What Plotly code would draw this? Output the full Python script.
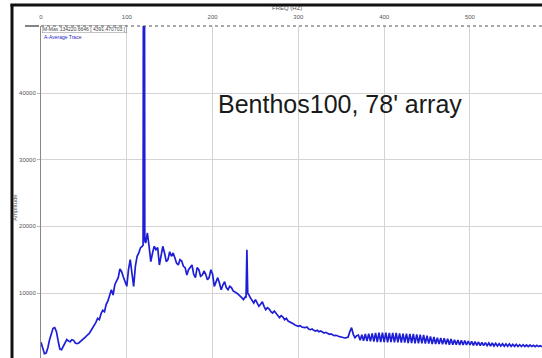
import plotly.graph_objects as go

# Averaged spectrum.
# Regular 2 Hz bins, with 1 Hz bins around the two narrow tonal peaks.
freq_0_118 = list(range(0, 119, 2))
amp_0_118 = [
    2600, 1800, 900, 1000, 1800, 3000, 4000, 4700, 4800, 4200,
    2800, 1600, 1500, 2000, 2700, 3000, 2800, 2700, 3000, 2900,
    2500, 2400, 2500, 2700, 2900, 3100, 3400, 3700, 3900, 4300,
    4700, 5000, 5600, 6200, 6000, 6900, 7400, 7200, 8300, 8800,
    9600, 10500, 9700, 11200, 11800, 12300, 13600, 13200, 12400, 11600,
    11000, 13500, 15000, 13000, 11000, 14000, 15500, 16000, 16800, 17000,
]
freq_peak_120 = [119, 120, 121]
amp_peak_120 = [17200, 134220, 17800]
freq_122_238 = list(range(122, 239, 2))
amp_122_238 = [
    17500, 19000, 17000, 14700, 16000, 17000, 16500, 16800, 14200,
    15500, 17000, 16000, 14700, 15000, 16200, 15500, 16000, 15300, 14500,
    14200, 15000, 14800, 14000, 13800, 12700, 13500, 13800, 14200, 12800,
    12300, 13800, 13500, 12500, 12700, 13300, 12800, 12000, 12300, 13500,
    12800, 11000, 11800, 12300, 11500, 10500, 11200, 11700, 10800, 10500,
    11000, 10800, 10300, 10200, 10000, 9800, 9600, 9300, 9000, 9400,
]
freq_peak_240 = [239, 240, 241]
amp_peak_240 = [9300, 16500, 9900]
freq_242_368 = list(range(242, 369, 2))
amp_242_368 = [
    9800, 9300, 8800, 8500, 9000, 8600, 8000, 8300, 8700,
    8000, 7500, 7800, 7600, 7200, 7000, 7300, 7000, 6600, 6300,
    6600, 6400, 6000, 6200, 5800, 5700, 5600, 5400, 5200, 5100,
    5000, 5100, 4900, 4850, 4800, 4900, 4600, 4500, 4600, 4400,
    4300, 4400, 4200, 4300, 4100, 4000, 4100, 3900, 3800, 3850,
    3700, 3600, 3650, 3500, 3450, 3400, 3300, 3250, 3300, 3400,
    4200, 4800, 3800, 3300, 3600,
]
freq_370_584 = list(range(370, 585, 2))
amp_370_584 = [
    3700, 2900, 3750, 2850, 3850, 2800, 3900, 2750, 3950, 2700,
    4000, 2650, 4050, 2650, 4050, 2650, 4050, 2600, 4000, 2650,
    4000, 2600, 4000, 2600, 3950, 2550, 3900, 2550, 3900, 2500,
    3850, 2500, 3850, 2450, 3800, 2450, 3750, 2450, 3700, 2400,
    3600, 2400, 3500, 2350, 3400, 2350, 3300, 2350, 3250, 2300,
    3200, 2300, 3150, 2250, 3100, 2250, 3000, 2250, 2950, 2200,
    2900, 2200, 2850, 2200, 2800, 2200, 2750, 2150, 2700, 2150,
    2650, 2100, 2600, 2100, 2550, 2100, 2500, 2050, 2500, 2050,
    2450, 2050, 2400, 2050, 2400, 2000, 2350, 2000, 2350, 2000,
    2300, 2000, 2300, 1980, 2250, 1980, 2250, 1980, 2200, 1970,
    2200, 1970, 2150, 1960, 2150, 1960, 2100, 1950,
]
freq = (freq_0_118 + freq_peak_120 + freq_122_238 + freq_peak_240
        + freq_242_368 + freq_370_584)
amplitude = (amp_0_118 + amp_peak_120 + amp_122_238 + amp_peak_240
             + amp_242_368 + amp_370_584)

x_ticks = [0, 100, 200, 300, 400, 500]
y_ticks = [10000, 20000, 30000, 40000]

fig = go.Figure()
fig.add_trace(go.Scatter(x=freq, y=amplitude, mode="lines",
                         line=dict(color="rgb(30,30,215)", width=1.7),
                         hoverinfo="skip", showlegend=False))

W, H = 542, 358
ML, MT = 41, 26
PW, PH = W - ML, H - MT


def px(x):
    return (x - ML) / PW


def py(y):
    return (H - y) / PH


fig.update_layout(
    width=W, height=H,
    margin=dict(l=ML, r=0, t=MT, b=0, pad=0),
    paper_bgcolor="white", plot_bgcolor="white",
    font=dict(family="Arial, Liberation Sans, sans-serif", color="#555"),
    xaxis=dict(range=[0, 584], side="top", tickvals=x_ticks,
               ticktext=[str(v) for v in x_ticks],
               tickfont=dict(size=6, color="#555"), ticklabelstandoff=5,
               showgrid=True, gridcolor="#d4d4d4", gridwidth=1,
               zeroline=False, showline=False, ticks=""),
    yaxis=dict(range=[250, 50050], tickvals=y_ticks,
               ticktext=[str(v) for v in y_ticks],
               tickfont=dict(size=6, color="#555"),
               showgrid=True, gridcolor="#d4d4d4", gridwidth=1,
               zeroline=False, showline=True, linecolor="#888", linewidth=1,
               ticks="outside", ticklen=3, tickcolor="#bbb"),
)

shapes = [
    # outer black frame (left and top)
    dict(type="line", xref="paper", yref="paper", x0=px(12), x1=px(12),
         y0=py(4), y1=py(360), line=dict(color="#111", width=3)),
    dict(type="line", xref="paper", yref="paper", x0=px(10.5), x1=px(545),
         y0=py(5), y1=py(5), line=dict(color="#111", width=3)),
    # dotted top axis line
    dict(type="line", xref="paper", yref="paper", x0=0, x1=1,
         y0=1, y1=1, line=dict(color="#555", width=1, dash="dot")),
    # short dark tick left of the corner
    dict(type="line", xref="paper", yref="paper", x0=px(25), x1=px(39),
         y0=py(26), y1=py(26), line=dict(color="#333", width=1.2)),
]
fig.update_layout(shapes=shapes)

annotations = [
    dict(text="FREQ (HZ)", xref="paper", yref="paper", x=px(287), y=py(8),
         showarrow=False, font=dict(size=6, color="#555"),
         xanchor="center", yanchor="middle"),
    dict(text="Amplitude", xref="paper", yref="paper", x=px(15), y=py(208),
         showarrow=False, textangle=-90, font=dict(size=6, color="#555"),
         xanchor="center", yanchor="middle"),
    dict(text="M-Max 134220.6646 [ 4391.470703 ]", xref="paper", yref="paper",
         x=px(42), y=py(25.5), showarrow=False,
         font=dict(size=5, color="#444"), xanchor="left", yanchor="top",
         bordercolor="#888", borderwidth=0.5, borderpad=0.5,
         bgcolor="rgba(255,255,255,0)"),
    dict(text="A-Average Trace", xref="paper", yref="paper",
         x=px(42), y=py(32), showarrow=False,
         font=dict(size=5, color="rgb(40,40,200)"), xanchor="left", yanchor="top"),
    dict(text="Benthos100, 78' array", xref="paper", yref="paper",
         x=px(340), y=py(104), showarrow=False,
         font=dict(size=25, color="#1a1a1a",
                   family="Arial, Liberation Sans, sans-serif"),
         xanchor="center", yanchor="middle"),
]
fig.update_layout(annotations=annotations)

fig.write_html("out.html")
